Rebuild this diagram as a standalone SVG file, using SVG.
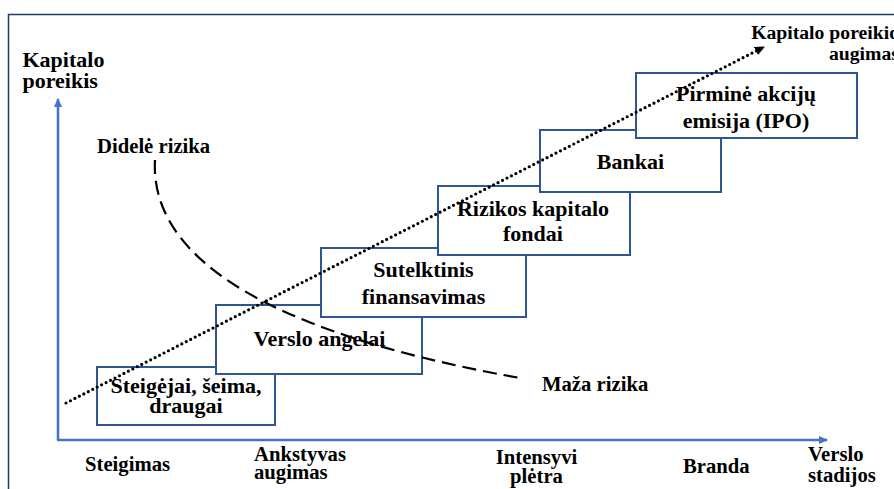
<svg xmlns="http://www.w3.org/2000/svg" width="894" height="489" viewBox="0 0 894 489" font-family="Liberation Serif, Times New Roman, serif" font-weight="bold" font-size="20.7">
<style>
.c{text-anchor:middle}
.n{font-size:22px}
.box{fill:#fff;stroke:#2F5597;stroke-width:2}
.axis{stroke:#4472C4;stroke-width:2.5;fill:none}
</style>
<defs>
<marker id="ab" markerWidth="10" markerHeight="10" refX="8" refY="4" orient="auto" markerUnits="userSpaceOnUse">
<path d="M0,0 L9,4 L0,8 Z" fill="#4472C4"/>
</marker>
<marker id="ak" markerWidth="12" markerHeight="12" refX="9" refY="4.5" orient="auto" markerUnits="userSpaceOnUse">
<path d="M0,0 L10,4.5 L0,9 Z" fill="#000"/>
</marker>
</defs>
<rect width="894" height="489" fill="#fff"/>
<path d="M8.5,495 V14.5 H900" fill="none" stroke="#1F3864" stroke-width="1.5"/>
<g id="axes">
<path class="axis" d="M58,440 V99" marker-end="url(#ab)"/>
<path class="axis" d="M57,440 H827" marker-end="url(#ab)"/>
</g>
<g id="n1" class="n"><rect class="box" x="97" y="367" width="178" height="58"/>
<text class="c" x="186" y="393">Steigėjai, šeima,</text><text class="c" x="186" y="413">draugai</text></g>
<g id="n2" class="n"><rect class="box" x="216" y="305" width="206" height="69"/>
<text class="c" x="319.5" y="346">Verslo angelai</text></g>
<g id="n3" class="n"><rect class="box" x="321" y="248" width="205" height="69"/>
<text class="c" x="423.5" y="277">Sutelktinis</text><text class="c" x="423.5" y="303.5">finansavimas</text></g>
<g id="n4" class="n"><rect class="box" x="438" y="186" width="192" height="69"/>
<text class="c" x="533" y="216">Rizikos kapitalo</text><text class="c" x="533" y="241">fondai</text></g>
<g id="n5" class="n"><rect class="box" x="540" y="130" width="181" height="62"/>
<text class="c" x="630.5" y="169">Bankai</text></g>
<g id="n6" class="n"><rect class="box" x="636" y="73" width="221" height="65"/>
<text class="c" x="746" y="101">Pirminė akcijų</text><text class="c" x="746" y="127.5">emisija (IPO)</text></g>
<g id="connectors">
<path d="M155,160 C150,250 250,330 520,378" fill="none" stroke="#000" stroke-width="2.2" stroke-dasharray="14 7"/>
<path d="M66,403 L764,47" fill="none" stroke="#000" stroke-width="3.2" stroke-dasharray="0 5" stroke-linecap="round" marker-end="url(#ak)"/>
</g>
<g id="labels">
<text x="22.5" y="67" font-size="22">Kapitalo</text>
<text x="22.5" y="88" font-size="22">poreikis</text>
<text x="899" y="38.5" font-size="19.7" text-anchor="end">Kapitalo poreikio</text>
<text x="899" y="59.5" font-size="19.7" text-anchor="end">augimas</text>
<text x="97" y="153">Didelė rizika</text>
<text x="542" y="391">Maža rizika</text>
<text x="85" y="471">Steigimas</text>
<text x="254" y="461">Ankstyvas</text>
<text x="254" y="479">augimas</text>
<text class="c" x="536.5" y="464">Intensyvi</text>
<text class="c" x="536.5" y="483">plėtra</text>
<text x="683" y="473">Branda</text>
<text x="808" y="461">Verslo</text>
<text x="808" y="481.5">stadijos</text>
</g>
</svg>
